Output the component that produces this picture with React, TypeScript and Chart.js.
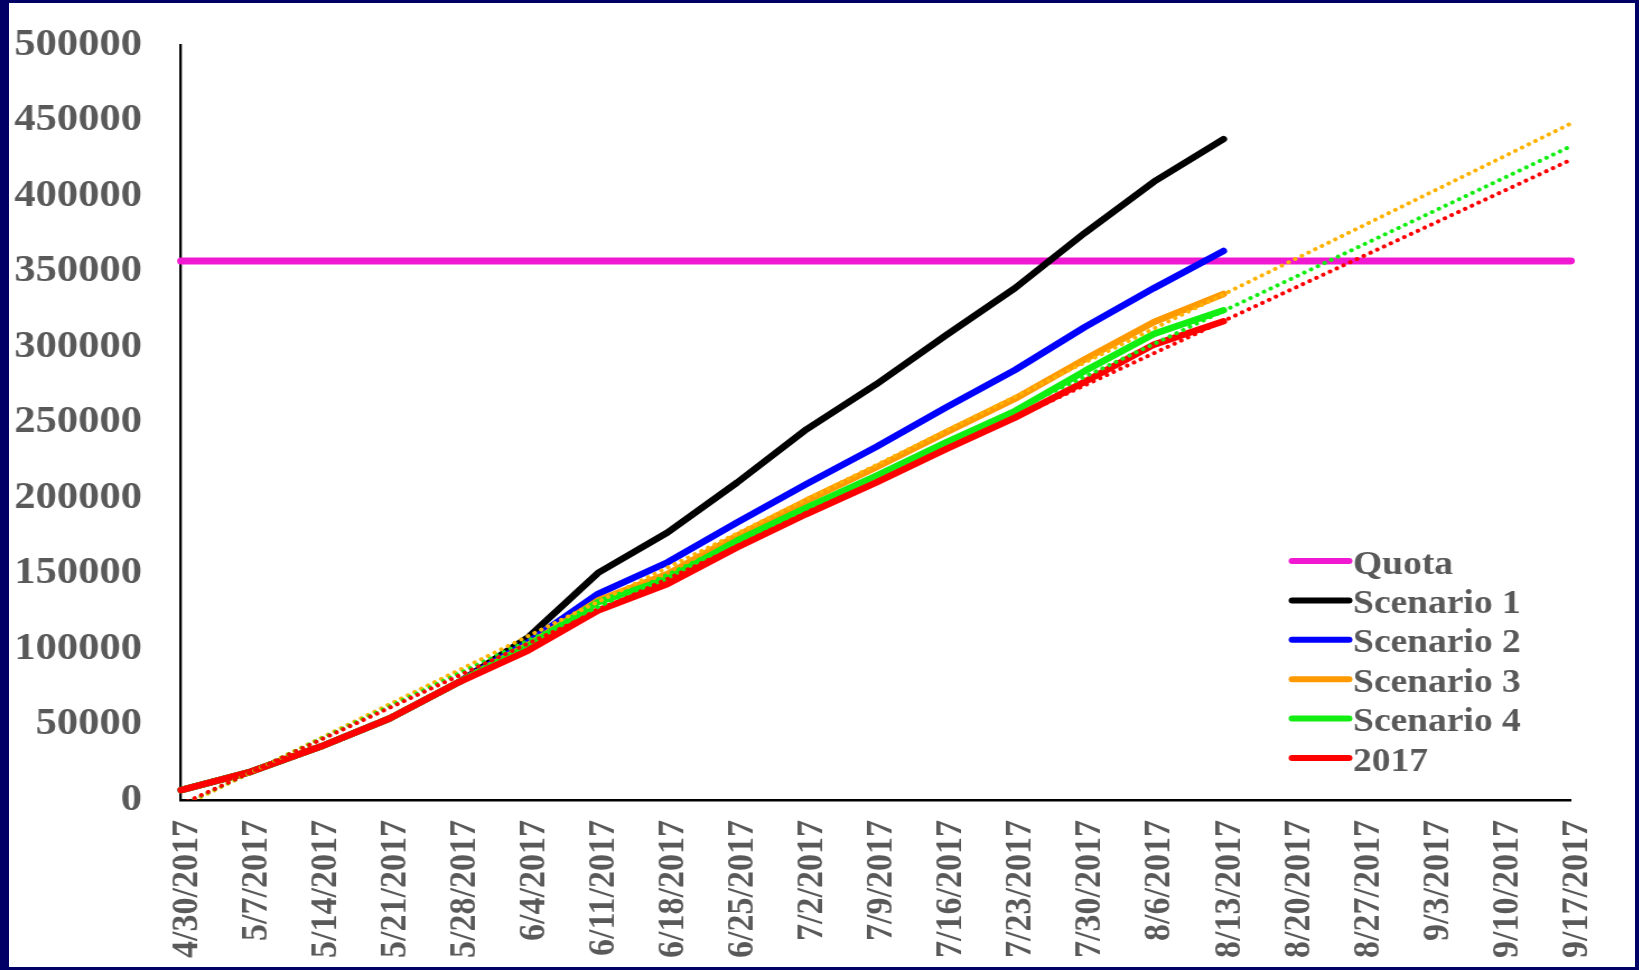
import React, { useEffect, useRef } from "react";
import { Chart, registerables } from "chart.js";

Chart.register(...registerables);

// ---------- data ----------
const weeks = [
  "4/30/2017", "5/7/2017", "5/14/2017", "5/21/2017", "5/28/2017", "6/4/2017",
  "6/11/2017", "6/18/2017", "6/25/2017", "7/2/2017", "7/9/2017", "7/16/2017",
  "7/23/2017", "7/30/2017", "8/6/2017", "8/13/2017", "8/20/2017", "8/27/2017",
  "9/3/2017", "9/10/2017", "9/17/2017",
];

const quota = 357000;

const scenario1 = [6600, 18700, 35200, 54000, 78100, 107900, 150400, 177200, 210200, 245500, 275200, 307500, 339000, 375400, 409500, 437700];
const scenario2 = [6600, 18700, 35200, 54000, 78100, 104600, 136500, 157400, 183800, 209200, 233800, 259800, 284800, 313100, 339000, 363600];
const scenario3 = [6600, 18700, 35200, 54000, 78100, 102800, 132100, 149700, 175000, 198200, 220200, 243300, 265800, 291700, 316600, 335100];
const scenario4 = [6600, 18700, 35200, 54000, 78100, 102000, 131000, 146400, 171700, 193700, 214700, 236700, 257600, 284000, 308700, 324300];
const season2017 = [6600, 18700, 35200, 54000, 78100, 99100, 125500, 143100, 167300, 189400, 210200, 232200, 253200, 276900, 301600, 317000];

// linear trendline end values (first week, last week)
const trendScenario3 = [-4500, 448000];
const trendScenario4 = [-3500, 433000];
const trend2017 = [-3000, 424000];

const yTicks = { min: 0, max: 500000, step: 50000 };

// ---------- styles ----------
const LABEL_COLOR = "#595959";
const FONT_FAMILY = "'Liberation Serif', 'Times New Roman', serif";
// the original picture is slightly stretched horizontally
const STRETCH = 1.12;
const CANVAS_W = Math.round(1626 / STRETCH);
const CANVAS_H = 964;

const endpoints = (vals: number[]) => [
  { x: weeks[0], y: vals[0] },
  { x: weeks[weeks.length - 1], y: vals[1] },
];

const solid = (label: string, data: any[], color: string, order: number, width = 6.5) => ({
  label,
  data,
  borderColor: color,
  backgroundColor: color,
  borderWidth: width,
  pointRadius: 0,
  pointHoverRadius: 0,
  tension: 0,
  fill: false,
  borderCapStyle: "round",
  borderJoinStyle: "round",
  order,
  showInLegend: true,
});

const dotted = (data: any[], color: string, order: number) => ({
  label: "",
  data,
  borderColor: color,
  backgroundColor: color,
  borderWidth: 4,
  borderDash: [0.1, 6.7],
  borderCapStyle: "round",
  pointRadius: 0,
  pointHoverRadius: 0,
  tension: 0,
  fill: false,
  order,
  showInLegend: false,
});

const insideLegend = {
  id: "insideLegend",
  afterDatasetsDraw(chart: any) {
    const ctx = chart.ctx;
    const items = chart.data.datasets.filter((d: any) => d.showInLegend);
    const x0 = 1145.5;
    const x1 = 1196.5;
    const tx = 1200;
    const y0 = 558;
    const dy = 39.4;
    ctx.save();
    items.forEach((d: any, i: number) => {
      const y = y0 + i * dy;
      ctx.beginPath();
      ctx.strokeStyle = d.borderColor;
      ctx.lineWidth = 6;
      ctx.lineCap = "round";
      ctx.moveTo(x0, y);
      ctx.lineTo(x1, y);
      ctx.stroke();
      ctx.fillStyle = LABEL_COLOR;
      ctx.font = `bold 33.5px ${FONT_FAMILY}`;
      ctx.textAlign = "left";
      ctx.textBaseline = "alphabetic";
      ctx.fillText(d.label, tx, y + 12.5);
    });
    ctx.restore();
  },
};

const zeroPadding = (scale: any) => {
  scale.paddingTop = 0;
  scale.paddingBottom = 0;
  scale.paddingLeft = 0;
  scale.paddingRight = 0;
};

export default function App() {
  const ref = useRef<HTMLCanvasElement>(null);

  useEffect(() => {
    const canvas = ref.current;
    if (!canvas) return;
    const chart = new Chart(canvas, {
      type: "line",
      data: {
        labels: weeks,
        datasets: [
          solid("Quota", endpoints([quota, quota]), "#F018D0", 10, 7),
          solid("Scenario 1", scenario1, "#000000", 9),
          solid("Scenario 2", scenario2, "#0000FF", 8),
          solid("Scenario 3", scenario3, "#FF9900", 7),
          solid("Scenario 4", scenario4, "#12EE12", 6),
          solid("2017", season2017, "#FF0000", 5),
          dotted(endpoints(trendScenario3), "#FFB300", 3),
          dotted(endpoints(trendScenario4), "#12EE12", 2),
          dotted(endpoints(trend2017), "#FF0000", 1),
        ] as any,
      },
      options: {
        animation: false,
        responsive: false,
        devicePixelRatio: 1,
        events: [],
        layout: { padding: { top: 42, right: 57.4, bottom: 0, left: 0 } },
        plugins: {
          legend: { display: false },
          tooltip: { enabled: false },
          title: { display: false },
        },
        scales: {
          x: {
            type: "category",
            offset: false,
            grid: { display: false, drawTicks: false, tickLength: 0 },
            border: { display: true, color: "#000000", width: 2.5 },
            ticks: {
              autoSkip: false,
              minRotation: 90,
              maxRotation: 90,
              padding: 20,
              labelOffset: 5.4,
              color: LABEL_COLOR,
              font: { family: FONT_FAMILY, weight: "bold", size: 34 },
            },
            afterFit: (scale: any) => {
              scale.height = 167;
              zeroPadding(scale);
            },
          },
          y: {
            min: yTicks.min,
            max: yTicks.max,
            grid: { display: false, drawTicks: false, tickLength: 0 },
            border: { display: true, color: "#000000", width: 2.3 },
            ticks: {
              stepSize: yTicks.step,
              padding: 34.8,
              color: LABEL_COLOR,
              font: { family: FONT_FAMILY, weight: "bold", size: 38 },
              callback: (v: any) => String(v),
            },
            afterFit: (scale: any) => {
              scale.width = 153.6;
              zeroPadding(scale);
            },
          },
        },
      } as any,
      plugins: [insideLegend],
    });
    return () => chart.destroy();
  }, []);

  return (
    <div style={{ position: "fixed", left: 0, top: 0, width: 1639, height: 970, background: "#000066" }}>
      <div style={{ position: "absolute", left: 9, top: 3, width: 1626, height: 964, background: "#ffffff", overflow: "hidden" }}>
        <canvas
          ref={ref}
          width={CANVAS_W}
          height={CANVAS_H}
          style={{ display: "block", transform: `scaleX(${STRETCH})`, transformOrigin: "0 0" }}
        />
      </div>
    </div>
  );
}
